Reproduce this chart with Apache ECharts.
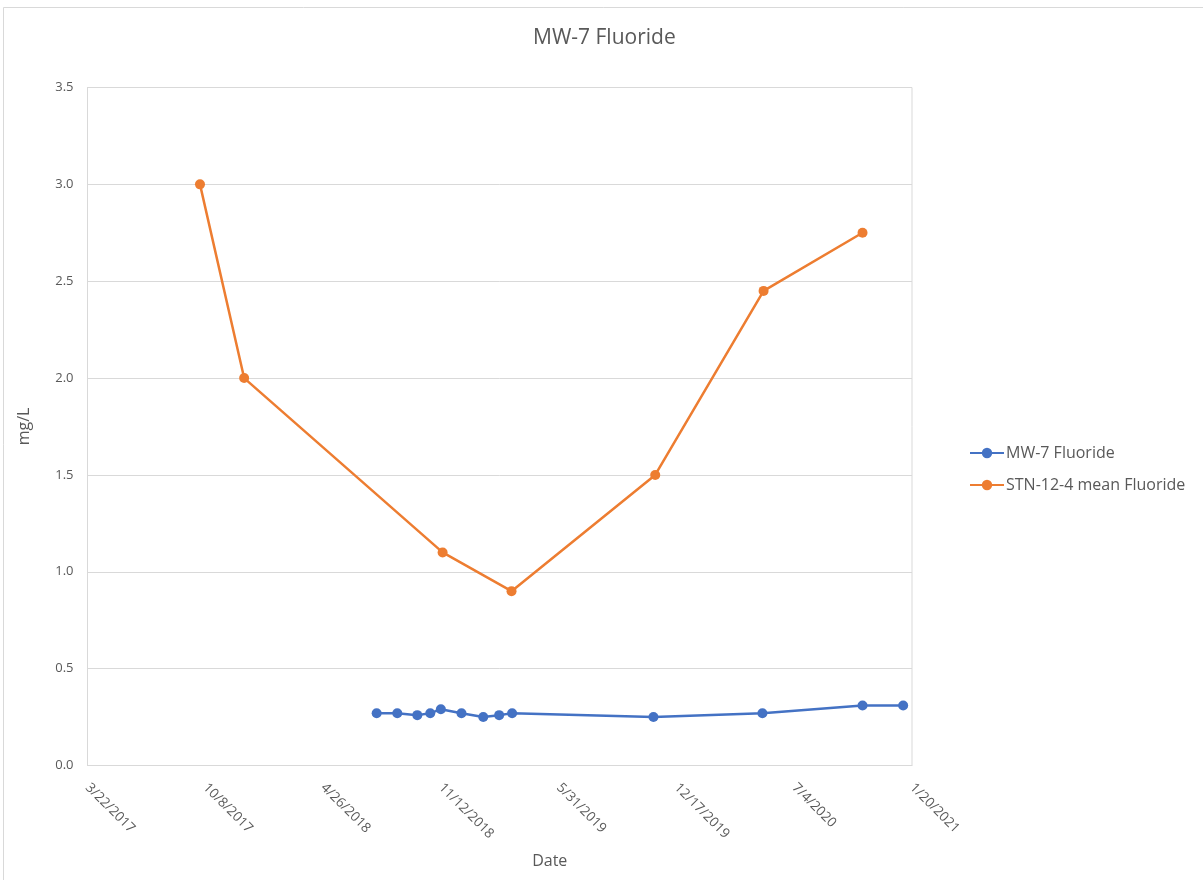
<!DOCTYPE html>
<html>
<head>
<meta charset="utf-8">
<title>MW-7 Fluoride</title>
<script src="https://cdn.jsdelivr.net/npm/echarts@6/dist/echarts.min.js"></script>
<style>
  html, body { margin: 0; padding: 0; background: #ffffff; }
  #chart { width: 1203px; height: 880px; }
</style>
</head>
<body>
<div id="chart"></div>
<script>
// Sampling dates and fluoride results (mg/L)
const mw7Dates = ['2018-07-26', '2018-08-30', '2018-10-03', '2018-10-25', '2018-11-12',
                  '2018-12-17', '2019-01-23', '2019-02-19', '2019-03-13', '2019-11-08',
                  '2020-05-11', '2020-10-28', '2021-01-05'];
const mw7Values = [0.27, 0.27, 0.26, 0.27, 0.29, 0.27, 0.25, 0.26, 0.27, 0.25, 0.27, 0.31, 0.31];

const stnDates = ['2017-09-29', '2017-12-13', '2018-11-15', '2019-03-12', '2019-11-11',
                  '2020-05-13', '2020-10-28'];
const stnValues = [3.0, 2.0, 1.1, 0.9, 1.5, 2.45, 2.75];

const seriesNames = ['MW-7 Fluoride', 'STN-12-4 mean Fluoride'];

// Date axis runs from 3/22/2017 in 200-day steps
const axisStart = '2017-03-22';
const axisSpanDays = 1400;
const axisStepDays = 200;

const DAY = 86400000;
function toUTC(s) {
  const p = s.split('-').map(Number);
  return Date.UTC(p[0], p[1] - 1, p[2]);
}
const baseMs = toUTC(axisStart);
function dayOffset(s) { return Math.round((toUTC(s) - baseMs) / DAY); }
function fmtDate(days) {
  const d = new Date(baseMs + days * DAY);
  return (d.getUTCMonth() + 1) + '/' + d.getUTCDate() + '/' + d.getUTCFullYear();
}

const mw7Data = mw7Dates.map((d, i) => [dayOffset(d), mw7Values[i]]);
const stnData = stnDates.map((d, i) => [dayOffset(d), stnValues[i]]);

const FONT = '"Open Sans", "Liberation Sans", sans-serif';
const TXT = '#595959';

const chart = echarts.init(document.getElementById('chart'), null, { renderer: 'canvas' });
chart.setOption({
  backgroundColor: '#ffffff',
  animation: false,
  graphic: [{
    type: 'rect',
    shape: { x: 3.5, y: 7.5, width: 1210, height: 890 },
    style: { fill: 'none', stroke: '#d9d9d9', lineWidth: 1 },
    silent: true,
    z: -10
  }],
  title: {
    text: 'MW-7 Fluoride',
    left: 533,
    top: 28,
    padding: 0,
    textStyle: { fontFamily: FONT, fontSize: 21, fontWeight: 'normal', color: TXT }
  },
  legend: {
    orient: 'vertical',
    left: 964,
    top: 440,
    itemWidth: 34,
    itemHeight: 13,
    itemGap: 16,
    textStyle: { fontFamily: FONT, fontSize: 16, color: TXT, padding: [0, 0, 0, -3] },
    data: seriesNames
  },
  grid: {
    left: 87.5,
    right: 291,
    top: 87.5,
    bottom: 114.5,
    show: true,
    borderColor: '#d9d9d9',
    borderWidth: 1,
    containLabel: false
  },
  xAxis: {
    type: 'value',
    min: 0,
    max: axisSpanDays,
    interval: axisStepDays,
    name: 'Date',
    nameLocation: 'middle',
    nameGap: 88,
    nameTextStyle: { fontFamily: FONT, fontSize: 16, color: TXT, padding: [0, 0, 0, 100] },
    axisLine: { show: true, lineStyle: { color: '#d9d9d9' } },
    axisTick: { show: false },
    splitLine: { show: false },
    axisLabel: {
      rotate: -45,
      margin: 20,
      fontFamily: FONT,
      fontSize: 13.5,
      color: TXT,
      formatter: v => fmtDate(v)
    }
  },
  yAxis: {
    type: 'value',
    min: 0,
    max: 3.5,
    interval: 0.5,
    name: 'mg/L',
    nameLocation: 'middle',
    nameGap: 55,
    nameTextStyle: { fontFamily: FONT, fontSize: 16, color: TXT },
    axisLine: { show: true, lineStyle: { color: '#d9d9d9' } },
    axisTick: { show: false },
    splitLine: { show: true, lineStyle: { color: '#d9d9d9', width: 1 } },
    axisLabel: {
      margin: 14,
      fontFamily: FONT,
      fontSize: 13,
      color: TXT,
      formatter: v => v.toFixed(1)
    }
  },
  series: [
    {
      name: seriesNames[0],
      type: 'line',
      data: mw7Data,
      color: '#4472C4',
      symbol: 'circle',
      symbolSize: 10,
      lineStyle: { width: 2.5, color: '#4472C4' },
      itemStyle: { color: '#4472C4' }
    },
    {
      name: seriesNames[1],
      type: 'line',
      data: stnData,
      color: '#ED7D31',
      symbol: 'circle',
      symbolSize: 10,
      lineStyle: { width: 2.5, color: '#ED7D31' },
      itemStyle: { color: '#ED7D31' }
    }
  ]
});
</script>
</body>
</html>
